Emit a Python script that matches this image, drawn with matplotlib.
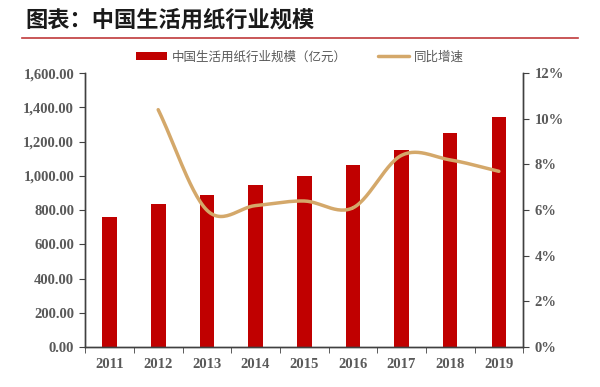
import numpy as np
import matplotlib.pyplot as plt
from matplotlib.ticker import FuncFormatter

years = ['2011', '2012', '2013', '2014', '2015', '2016', '2017', '2018', '2019']
scale = [760, 836, 889, 947, 1000, 1064, 1152, 1251, 1345]  # 亿元
growth_years = [1, 2, 3, 4, 5, 6, 7, 8]
growth = [10.4, 6.0, 6.2, 6.4, 6.1, 8.4, 8.2, 7.7]  # %

plt.rcParams['font.family'] = ['Noto Sans CJK SC', 'DejaVu Sans']

fig = plt.figure(figsize=(6, 3.87), dpi=100)
ax = fig.add_axes([0.142, 0.103, 0.730, 0.708])
ax2 = ax.twinx()

x = np.arange(len(years))
ax.bar(x, scale, width=0.3, color='#C00000', zorder=2, label='中国生活用纸行业规模（亿元）')


def catmull(xs, ys, n=30):
    # smoothed line like the spreadsheet's "smooth line" option
    xs = np.asarray(xs, float)
    ys = np.asarray(ys, float)
    px = np.concatenate([[2 * xs[0] - xs[1]], xs, [2 * xs[-1] - xs[-2]]])
    py = np.concatenate([[2 * ys[0] - ys[1]], ys, [2 * ys[-1] - ys[-2]]])
    outx, outy = [], []
    for i in range(1, len(px) - 2):
        t = np.linspace(0, 1, n)
        for p, out in ((px, outx), (py, outy)):
            p0, p1, p2, p3 = p[i - 1], p[i], p[i + 1], p[i + 2]
            out.extend(0.5 * (2 * p1 + (-p0 + p2) * t + (2 * p0 - 5 * p1 + 4 * p2 - p3) * t ** 2
                              + (-p0 + 3 * p1 - 3 * p2 + p3) * t ** 3))
    return np.array(outx), np.array(outy)


sx, sy = catmull(growth_years, growth)
ax2.plot(sx, sy, color='#D4A86A', lw=2.5, solid_capstyle='round', zorder=3, label='同比增速')
ax.set_zorder(ax2.get_zorder() - 1)
ax.patch.set_visible(False)

ax.set_xlim(-0.5, len(years) - 0.5)
ax.set_ylim(0, 1600)
ax.set_yticks(np.arange(0, 1601, 200))
ax.yaxis.set_major_formatter(FuncFormatter(lambda v, p: f'{v:,.2f}'))
ax2.set_ylim(0, 12)
ax2.set_yticks(np.arange(0, 13, 2))
ax2.yaxis.set_major_formatter(FuncFormatter(lambda v, p: f'{v:.0f}%'))

ax.set_xticks(x)
ax.set_xticklabels(years)
ax.set_xticks(np.arange(-0.5, len(years), 1), minor=True)
ax.tick_params(axis='x', which='major', length=0, pad=8)
ax.tick_params(axis='x', which='minor', length=4, direction='out', color='#404040')

for lab in ax.get_xticklabels() + ax.get_yticklabels() + ax2.get_yticklabels():
    lab.set_fontfamily('Liberation Serif')
    lab.set_fontweight('bold')
    lab.set_fontsize(10.5)
    lab.set_color('#595959')
ax.tick_params(axis='y', length=4, color='#404040', pad=4)
ax2.tick_params(axis='y', length=4, color='#404040', pad=4)

for a in (ax, ax2):
    a.spines['top'].set_visible(False)
    for s in ('left', 'right', 'bottom'):
        a.spines[s].set_color('#404040')
        a.spines[s].set_linewidth(1.0)

fig.text(0.043, 0.948, '图表：中国生活用纸行业规模', fontsize=16, fontweight='bold', color='#1a1a1a',
         va='center', ha='left')
fig.add_artist(plt.Line2D([0.037, 0.963], [0.903, 0.903], color='#C0393B', lw=1.2))

h1, l1 = ax.get_legend_handles_labels()
h2, l2 = ax2.get_legend_handles_labels()
fig.legend(h1 + h2, l1 + l2, loc='center', bbox_to_anchor=(0.5, 0.853), ncol=2, frameon=False,
           fontsize=9, handlelength=2.5, columnspacing=2.5, handletextpad=0.4,
           labelcolor='#595959')

fig.savefig('out.png', dpi=100)
